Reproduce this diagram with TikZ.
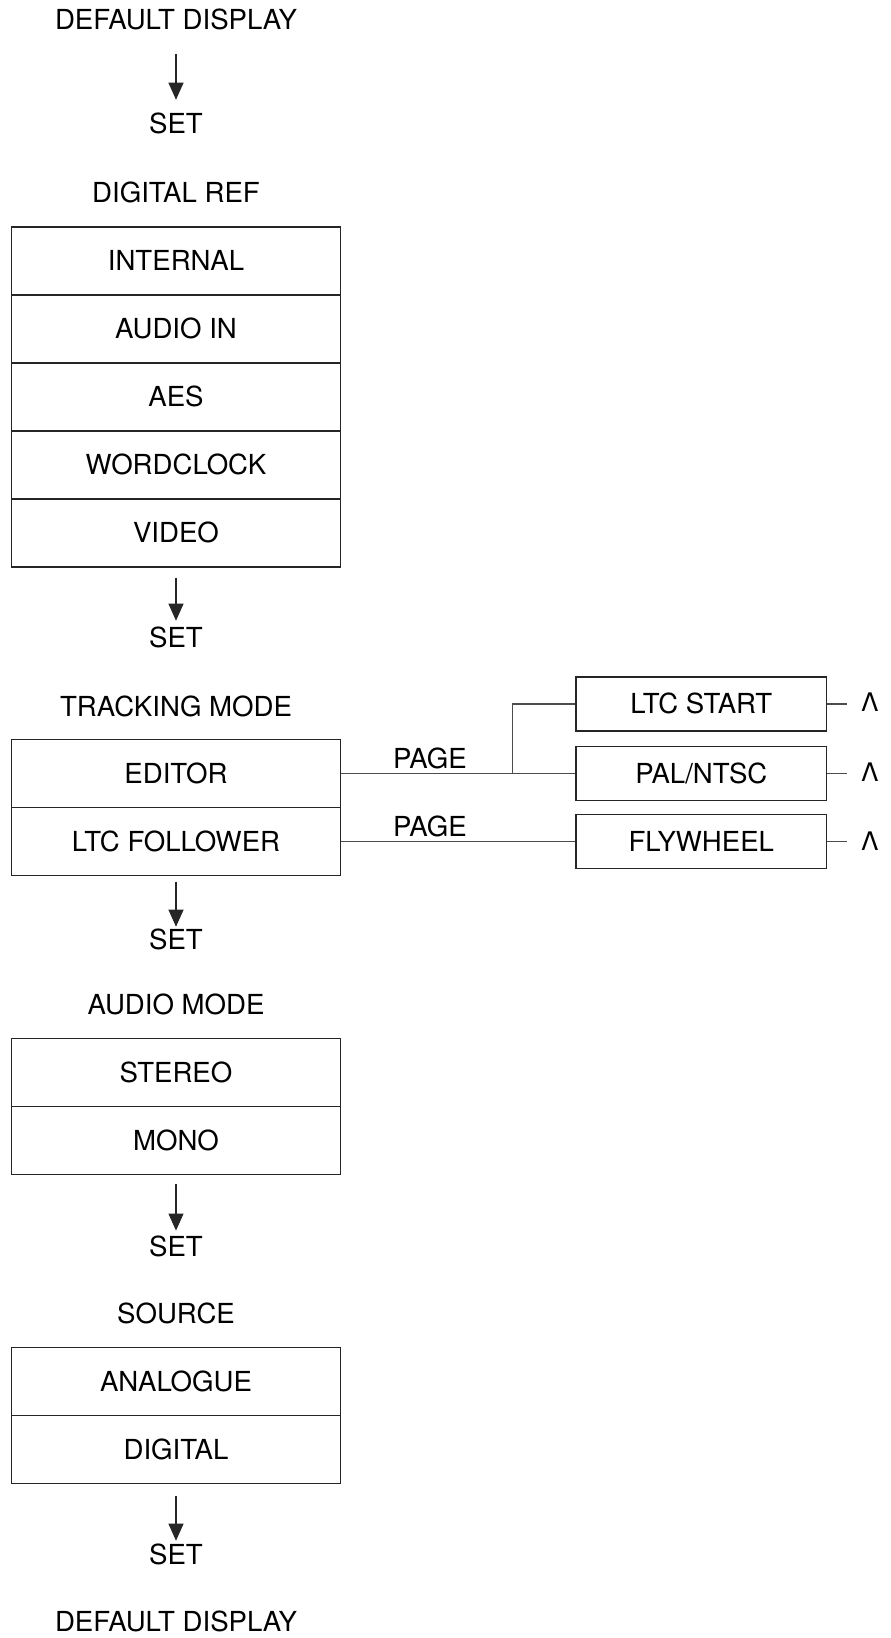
\documentclass[tikz,border=0pt]{standalone}
\usepackage{fontspec}
\setmainfont{TeX Gyre Heros}
\usetikzlibrary{arrows.meta}
\begin{document}
\begin{tikzpicture}[x=0.5pt,y=-0.5pt,
  lbl/.style={font=\fontsize{13.8}{15}\selectfont, inner sep=0pt, text height=9.9pt, text depth=0pt},
  row/.style={lbl, draw=black!85, line width=0.55pt, minimum width=164.15pt, minimum height=34pt},
  opt/.style={lbl, draw=black!85, line width=0.55pt, minimum width=125.35pt, minimum height=27pt},
  arr/.style={draw=black!85, line width=0.55pt, -{Triangle[length=8.5pt,width=7.5pt]}},
  conn/.style={draw=black!70, line width=0.55pt},
  caret/.style={font=\fontsize{12.8}{14}\selectfont, inner sep=0pt, text height=9.2pt, text depth=0pt}]
\useasboundingbox (0,0) rectangle (890,1638);

\node[lbl] (dd1) at (176,20) {DEFAULT DISPLAY};
\node[lbl] (set1) at (176,124) {SET};
\node[lbl] (hdref) at (176,193) {DIGITAL REF};
\node[row] (ref1) at (176,261) {INTERNAL};
\node[row] (ref2) at (176,329) {AUDIO IN};
\node[row] (ref3) at (176,397) {AES};
\node[row] (ref4) at (176,465) {WORDCLOCK};
\node[row] (ref5) at (176,533) {VIDEO};
\node[lbl] (set2) at (176,638) {SET};
\node[lbl] (hdtrk) at (176,707) {TRACKING MODE};
\node[row] (trk1) at (176,773.5) {EDITOR};
\node[row] (trk2) at (176,841.5) {LTC FOLLOWER};
\node[lbl] (set3) at (176,940) {SET};
\node[lbl] (hdaud) at (176,1005) {AUDIO MODE};
\node[row] (aud1) at (176,1072.3) {STEREO};
\node[row] (aud2) at (176,1140.3) {MONO};
\node[lbl] (set4) at (176,1246.5) {SET};
\node[lbl] (hdsrc) at (176,1314) {SOURCE};
\node[row] (src1) at (176,1381.5) {ANALOGUE};
\node[row] (src2) at (176,1449.5) {DIGITAL};
\node[lbl] (set5) at (176,1555) {SET};
\node[lbl] (dd2) at (176,1622) {DEFAULT DISPLAY};

\node[opt] (ltc) at (701.3,704) {LTC START};
\node[opt] (pal) at (701.3,773.5) {PAL/NTSC};
\node[opt] (fly) at (701.3,841.5) {FLYWHEEL};
\node[lbl] (pg1) at (430,759) {PAGE};
\node[lbl] (pg2) at (430,826.7) {PAGE};
\coordinate (br) at (512.7,773.5);

\node[caret] (c1) at (870,702) {Λ};
\node[caret] (c2) at (870,772.5) {Λ};
\node[caret] (c3) at (870,841) {Λ};

\draw[conn] (trk1.east) -- (pal.west);
\draw[conn] (br) |- (ltc.west);
\draw[conn] (trk2.east) -- (fly.west);
\draw[conn,shorten >=7pt] (ltc.east) -- (ltc.east -| c1.west);
\draw[conn,shorten >=7pt] (pal.east) -- (pal.east -| c2.west);
\draw[conn,shorten >=7pt] (fly.east) -- (fly.east -| c3.west);

\draw[arr, shorten <=12pt, shorten >=7pt] (dd1) -- (set1);
\draw[arr, shorten <=5pt, shorten >=3.5pt] (ref5) -- (set2);
\draw[arr, shorten <=2.75pt, shorten >=1.5pt] (trk2) -- (set3);
\draw[arr, shorten <=4.35pt, shorten >=2.8pt] (aud2) -- (set4);
\draw[arr, shorten <=5.75pt, shorten >=2pt] (src2) -- (set5);
\end{tikzpicture}
\end{document}
